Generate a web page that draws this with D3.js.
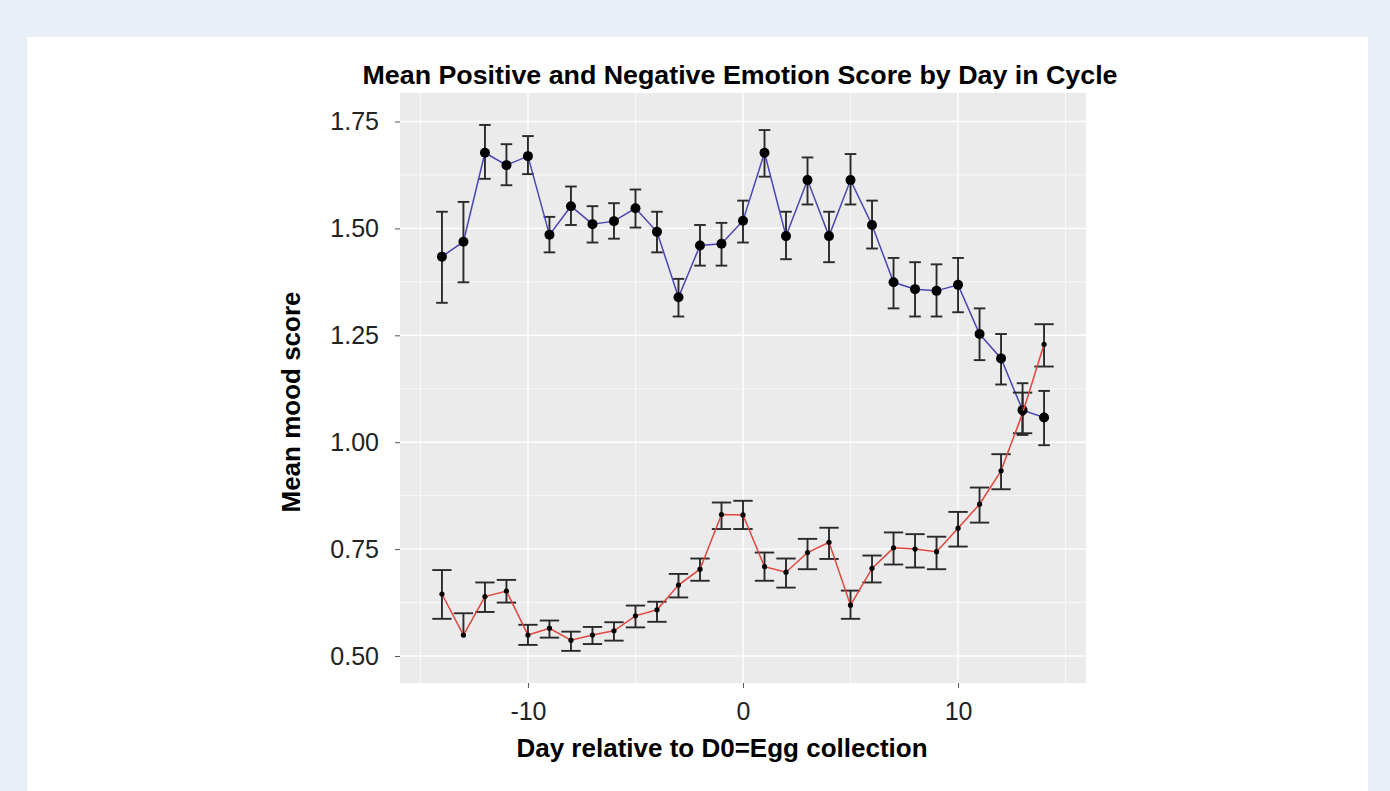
<!DOCTYPE html>
<html>
<head>
  <meta charset="utf-8">
  <script src="https://d3js.org/d3.v7.min.js"></script>
  <style>
    body { margin: 0; background: #e8eff8; }
    svg { display: block; }
  </style>
</head>
<body>
<svg id="chart" width="1390" height="791"></svg>
<script>
  // day in cycle (D0 = egg collection)
  const days = [-14,-13,-12,-11,-10,-9,-8,-7,-6,-5,-4,-3,-2,-1,0,1,2,3,4,5,6,7,8,9,10,11,12,13,14];

  // positive emotion (blue)
  const posMean = [1.434,1.469,1.677,1.648,1.669,1.485,1.552,1.510,1.517,1.547,1.492,1.339,1.460,1.464,1.518,1.677,1.482,1.613,1.482,1.613,1.508,1.374,1.358,1.354,1.368,1.253,1.196,1.075,1.058];
  const posLow  = [1.326,1.374,1.616,1.601,1.627,1.444,1.508,1.467,1.476,1.502,1.444,1.294,1.413,1.413,1.467,1.621,1.428,1.556,1.421,1.556,1.453,1.313,1.294,1.294,1.304,1.192,1.135,1.017,0.993];
  const posHigh = [1.539,1.562,1.742,1.697,1.716,1.527,1.598,1.552,1.559,1.591,1.539,1.382,1.508,1.513,1.565,1.730,1.539,1.666,1.539,1.674,1.565,1.431,1.421,1.416,1.431,1.313,1.253,1.138,1.120];

  // negative emotion (red)
  const negMean = [0.645,0.549,0.639,0.652,0.549,0.565,0.537,0.549,0.559,0.594,0.608,0.666,0.703,0.831,0.830,0.709,0.696,0.742,0.766,0.619,0.705,0.753,0.750,0.744,0.799,0.855,0.933,1.068,1.229];
  const negLow  = [0.587,null,0.603,0.625,0.526,0.543,0.512,0.528,0.536,0.567,0.580,0.637,0.676,0.797,0.797,0.676,0.660,0.703,0.727,0.587,0.672,0.714,0.707,0.703,0.756,0.812,0.890,1.021,1.177];
  const negHigh = [0.701,0.600,0.672,0.678,0.573,0.583,0.557,0.568,0.579,0.618,0.627,0.692,0.728,0.859,0.863,0.742,0.728,0.774,0.800,0.653,0.735,0.789,0.785,0.779,0.837,0.894,0.972,1.116,1.276];

  const xTicks = [-10, 0, 10];
  const xMinor = [-15, -5, 5, 15];
  const yTicks = [0.50, 0.75, 1.00, 1.25, 1.50, 1.75];
  const yMinor = [0.625, 0.875, 1.125, 1.375, 1.625];

  const title = "Mean Positive and Negative Emotion Score by Day in Cycle";
  const xTitle = "Day relative to D0=Egg collection";
  const yTitle = "Mean mood score";

  const font = "'Liberation Sans', Arial, sans-serif";
  const svg = d3.select("#chart");

  // white card
  svg.append("rect").attr("x", 27).attr("y", 37).attr("width", 1341).attr("height", 760).attr("fill", "#fff");

  const panel = { left: 400, right: 1086, top: 93, bottom: 683 };
  const x = d3.scaleLinear().domain([-15.95, 15.95]).range([panel.left, panel.right]);
  const y = d3.scaleLinear().domain([0.4369, 1.8167]).range([panel.bottom, panel.top]);

  svg.append("rect")
    .attr("x", panel.left).attr("y", panel.top)
    .attr("width", panel.right - panel.left).attr("height", panel.bottom - panel.top)
    .attr("fill", "#ebebeb");

  const grid = svg.append("g");
  grid.selectAll(".ymin").data(yMinor).join("line")
    .attr("x1", panel.left).attr("x2", panel.right)
    .attr("y1", d => y(d)).attr("y2", d => y(d))
    .attr("stroke", "#fff").attr("stroke-width", 0.7);
  grid.selectAll(".xmin").data(xMinor).join("line")
    .attr("y1", panel.top).attr("y2", panel.bottom)
    .attr("x1", d => x(d)).attr("x2", d => x(d))
    .attr("stroke", "#fff").attr("stroke-width", 0.7);
  grid.selectAll(".ymaj").data(yTicks).join("line")
    .attr("x1", panel.left).attr("x2", panel.right)
    .attr("y1", d => y(d)).attr("y2", d => y(d))
    .attr("stroke", "#fff").attr("stroke-width", 1.4);
  grid.selectAll(".xmaj").data(xTicks).join("line")
    .attr("y1", panel.top).attr("y2", panel.bottom)
    .attr("x1", d => x(d)).attr("x2", d => x(d))
    .attr("stroke", "#fff").attr("stroke-width", 1.4);

  // axes
  const yAxis = svg.append("g").attr("transform", `translate(${panel.left},0)`)
    .call(d3.axisLeft(y).tickValues(yTicks).tickFormat(d3.format(".2f")).tickSize(5).tickPadding(16));
  const xAxis = svg.append("g").attr("transform", `translate(0,${panel.bottom})`)
    .call(d3.axisBottom(x).tickValues(xTicks).tickFormat(d => String(d)).tickSize(5).tickPadding(14));
  [yAxis, xAxis].forEach(a => {
    a.select(".domain").remove();
    a.selectAll(".tick line").attr("stroke", "#555");
    a.selectAll(".tick text").attr("font-size", 25).attr("fill", "#222").attr("font-family", font);
  });

  function series(mean, low, high, color, capHalf, r) {
    const rows = days.map((d, i) => ({ day: d, m: mean[i], lo: low[i], hi: high[i] }));
    const g = svg.append("g");
    const eb = g.append("g").attr("stroke", "#2a2a2a").attr("stroke-width", 1.9).attr("fill", "none");
    rows.forEach(d => {
      const lo = d.lo == null ? d.m : d.lo;
      eb.append("line").attr("x1", x(d.day)).attr("x2", x(d.day)).attr("y1", y(lo)).attr("y2", y(d.hi));
      eb.append("line").attr("x1", x(d.day - capHalf)).attr("x2", x(d.day + capHalf)).attr("y1", y(d.hi)).attr("y2", y(d.hi));
      if (d.lo != null)
        eb.append("line").attr("x1", x(d.day - capHalf)).attr("x2", x(d.day + capHalf)).attr("y1", y(d.lo)).attr("y2", y(d.lo));
    });
    g.append("path").datum(rows)
      .attr("d", d3.line().x(d => x(d.day)).y(d => y(d.m)))
      .attr("fill", "none").attr("stroke", color).attr("stroke-width", 1.5);
    g.selectAll("circle").data(rows).join("circle")
      .attr("cx", d => x(d.day)).attr("cy", d => y(d.m)).attr("r", r).attr("fill", "#000");
  }

  series(posMean, posLow, posHigh, "#4a46b4", 0.27, 5);
  series(negMean, negLow, negHigh, "#e0463e", 0.45, 2.6);

  // titles
  svg.append("text").attr("x", 740).attr("y", 84).attr("text-anchor", "middle")
    .attr("font-family", font).attr("font-weight", "bold").attr("font-size", 25)
    .attr("textLength", 755).attr("lengthAdjust", "spacingAndGlyphs")
    .attr("fill", "#000").text(title);
  svg.append("text").attr("x", 722).attr("y", 757).attr("text-anchor", "middle")
    .attr("font-family", font).attr("font-weight", "bold").attr("font-size", 26)
    .attr("fill", "#000").text(xTitle);
  svg.append("text").attr("transform", "translate(300,402) rotate(-90)").attr("text-anchor", "middle")
    .attr("font-family", font).attr("font-weight", "bold").attr("font-size", 26)
    .attr("fill", "#000").text(yTitle);
</script>
</body>
</html>
